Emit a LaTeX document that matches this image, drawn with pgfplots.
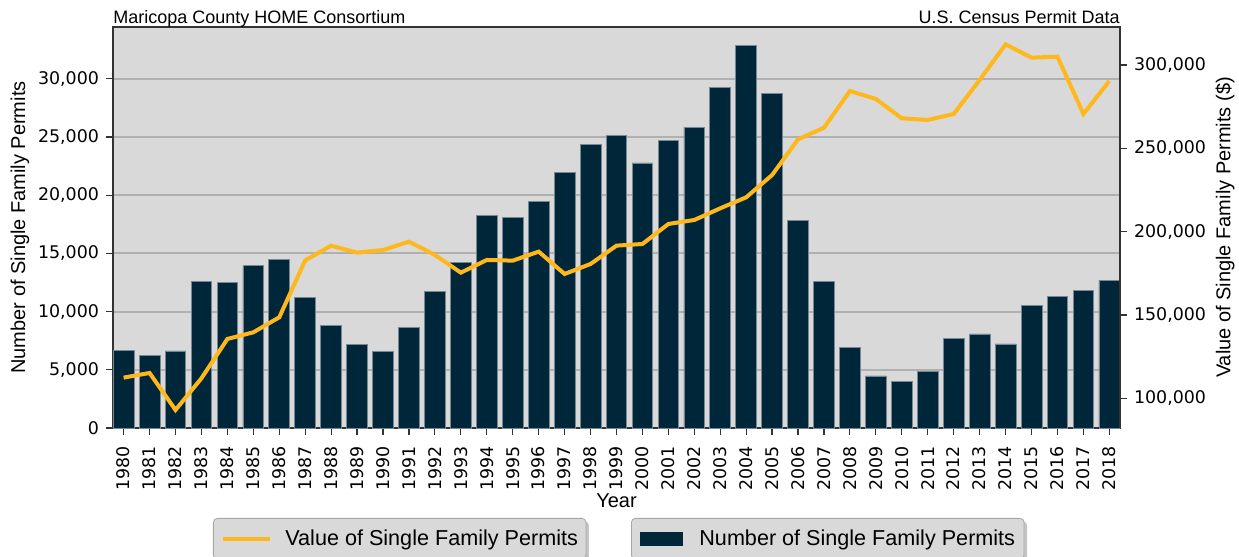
\documentclass[border=0pt]{standalone}
\usepackage{fontspec}
\setmainfont{Liberation Sans}
\newfontfamily\dejavu{DejaVu Sans}
\usepackage{pgfplots}
\pgfplotsset{compat=1.18}
\usetikzlibrary{shadows}

\definecolor{barcol}{RGB}{0,38,58}
\definecolor{linecol}{RGB}{255,184,28}
\definecolor{bggray}{RGB}{217,217,217}
\definecolor{gridgray}{RGB}{176,176,176}
\definecolor{edgegray}{RGB}{120,135,145}

\pgfplotsset{
  common/.style={
    at={(0,0)}, anchor=south west,
    scale only axis, width=503.5pt, height=200.5pt,
    xmin=1979.59, xmax=2018.41,
    tick align=outside, major tick length=3.5pt,
    tick style={black!80, line width=0.6pt},
    axis line style={black!80, line width=0.8pt},
    tick label style={font=\dejavu\fontsize{8.7}{10}\selectfont},
    /pgf/number format/fixed,
    /pgf/number format/assume math mode=true,
    scaled y ticks=false,
    label style={font=\fontsize{10}{12}\selectfont},
    legend style={
      font=\fontsize{10.8}{13}\selectfont,
      draw=gray!70, fill=bggray, rounded corners=2pt,
      inner ysep=3.5pt,
      drop shadow={shadow xshift=1.5pt, shadow yshift=-1.5pt, fill=gray!90},
      nodes={inner xsep=0pt},
      anchor=north west,
    },
  },
}

\begin{document}
\begin{tikzpicture}
\useasboundingbox (-56.5pt,-64.5pt) rectangle (563pt,214pt);

\begin{axis}[
  common,
  clip=false,
  ymin=0, ymax=34440,
  axis background/.style={fill=bggray},
  ymajorgrids, grid style={gridgray, line width=1pt},
  xtick={1980,...,2018},
  xtick pos=left, ytick pos=left,
  ytick={0,5000,...,30000},
  xticklabel shift=2pt,
  xticklabel style={rotate=90, anchor=east, /pgf/number format/1000 sep={}},
  xlabel={Year},
  xlabel style={at={(axis description cs:0.5,-0.1995)}, anchor=base},
  ylabel={Number of Single Family Permits},
  ylabel style={at={(axis description cs:-0.0924,0.5)}, anchor=center},
  legend style={at={(axis description cs:0.5144,-0.2244)}, inner xsep=4.5pt,
    column sep=8pt},
]
\addplot[ybar, bar width=0.8, fill=barcol, draw=edgegray, line width=0.4pt,
  legend image code/.code={
    \tikzset{every shadow/.style={opacity=0}}
    \fill[barcol, draw=none, sharp corners] (0pt,-3.5pt) rectangle (21.5pt,3.5pt);}]
  table {
    1980  6650
    1981  6250
    1982  6620
    1983 12550
    1984 12490
    1985 13930
    1986 14500
    1987 11200
    1988  8770
    1989  7140
    1990  6560
    1991  8660
    1992 11720
    1993 14250
    1994 18260
    1995 18120
    1996 19430
    1997 21950
    1998 24330
    1999 25130
    2000 22760
    2001 24680
    2002 25820
    2003 29260
    2004 32820
    2005 28750
    2006 17830
    2007 12580
    2008  6900
    2009  4470
    2010  4010
    2011  4870
    2012  7710
    2013  8080
    2014  7220
    2015 10550
    2016 11290
    2017 11810
    2018 12700
  };
\addlegendentry{Number of Single Family Permits}

\node[anchor=base west, inner sep=0pt, yshift=1.9pt, font=\fontsize{9}{11}\selectfont]
  at (rel axis cs:0,1) {Maricopa County HOME Consortium};
\node[anchor=base east, inner sep=0pt, yshift=1.9pt, font=\fontsize{9}{11}\selectfont]
  at (rel axis cs:1,1) {U.S. Census Permit Data};
\end{axis}

\begin{axis}[
  common,
  ymin=82180, ymax=322800,
  axis x line=none, axis y line*=right,
  ytick={100000,150000,...,300000},
  ylabel={Value of Single Family Permits (\$)},
  ylabel style={at={(axis description cs:1.1043,0.5)}, anchor=center},
  legend style={at={(axis description cs:0.0993,-0.2244)}, inner xsep=4pt,
    column sep=6.5pt},
]
\addplot[linecol, line width=2pt,
  legend image code/.code={
    \tikzset{every shadow/.style={opacity=0}}
    \draw[linecol, line width=2pt, sharp corners] (0pt,0pt) -- (23.5pt,0pt);}]
  table {
    1980 112400
    1981 115200
    1982  93000
    1983 112000
    1984 135600
    1985 139600
    1986 148600
    1987 182800
    1988 191600
    1989 187400
    1990 189000
    1991 194000
    1992 186000
    1993 175400
    1994 183000
    1995 182600
    1996 188000
    1997 174600
    1998 180600
    1999 191600
    2000 192600
    2001 204600
    2002 207000
    2003 214000
    2004 220600
    2005 234000
    2006 255400
    2007 262400
    2008 284400
    2009 279600
    2010 268000
    2011 267000
    2012 270600
    2013 291000
    2014 312400
    2015 304400
    2016 305000
    2017 270600
    2018 290400
  };
\addlegendentry{Value of Single Family Permits}
\end{axis}
\end{tikzpicture}
\end{document}
